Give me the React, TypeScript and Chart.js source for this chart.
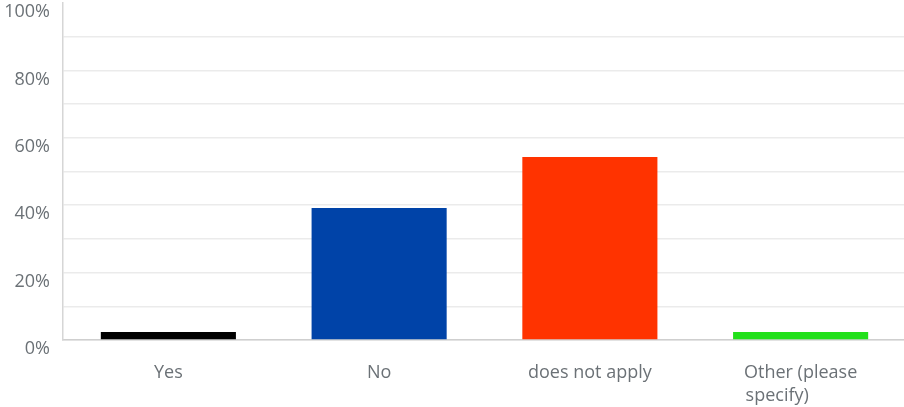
import React, { useEffect, useRef } from "react";
import { Chart, registerables } from "chart.js";

Chart.register(...registerables);

const categories: (string | string[])[] = ["Yes", "No", "does not apply", ["Other (please", "specify)" + " ".repeat(10)]];
const values: number[] = [2.4, 39.2, 54.3, 2.4];
const barColors: string[] = ["#000000", "#0043a8", "#ff3300", "#22e01a"];
const yTicks: number[] = [0, 20, 40, 60, 80, 100];

const FONT = "'Open Sans', sans-serif";
const TEXT = "#6b7176";

export default function App() {
  const ref = useRef<HTMLCanvasElement | null>(null);
  useEffect(() => {
    if (!ref.current) return;
    const chart = new Chart(ref.current, {
      type: "bar",
      data: {
        labels: categories,
        datasets: [
          {
            data: values,
            backgroundColor: barColors,
            borderWidth: 0,
            barPercentage: 0.641,
            categoryPercentage: 1,
          },
        ],
      },
      options: {
        animation: false,
        responsive: false,
        maintainAspectRatio: false,
        devicePixelRatio: 1,
        layout: { padding: { top: 3, right: 4, left: 0, bottom: 0 } },
        plugins: { legend: { display: false }, tooltip: { enabled: false } },
        scales: {
          x: {
            grid: { display: false },
            border: { display: true, color: "#cfcfcf", width: 1.5 },
            ticks: {
              color: TEXT,
              font: { family: FONT, size: 18, lineHeight: 1.28 },
              padding: 13,
              maxRotation: 0,
              autoSkip: false,
            },
            afterFit: (s: any) => {
              s.height = 67;
              s.paddingLeft = 0;
              s.paddingRight = 0;
            },
          },
          y: {
            min: 0,
            max: 100,
            grid: {
              color: (ctx: any) => (ctx.tick && ctx.tick.value === 100 ? "rgba(0,0,0,0)" : "#ebebeb"),
              lineWidth: 1.5,
              drawTicks: false,
            },
            border: { display: true, color: "#d6d6d6", width: 1.5 },
            ticks: {
              stepSize: 10,
              color: TEXT,
              padding: 13,
              labelOffset: 9,
              font: { family: FONT, size: 18 },
              callback: (v: any) => (yTicks.includes(Number(v)) ? v + "%" : ""),
            },
            afterFit: (s: any) => {
              s.width = 63;
              s.paddingTop = 0;
              s.paddingBottom = 0;
            },
          },
        },
      },
    });
    return () => chart.destroy();
  }, []);
  return (
    <div style={{ position: "absolute", left: 0, top: 0, width: 904, height: 407, overflow: "hidden", background: "#fff" }}>
      <canvas ref={ref} width={910} height={407} style={{ display: "block" }} />
    </div>
  );
}
